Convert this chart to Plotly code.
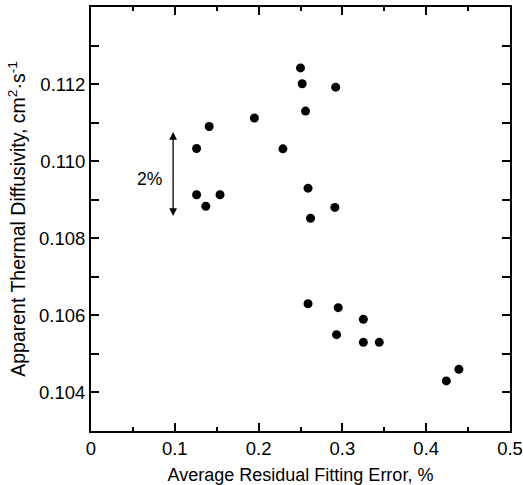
import plotly.graph_objects as go

# average residual fitting error (%) and apparent thermal diffusivity (cm2/s)
fit_error = [0.126, 0.141, 0.126, 0.137, 0.154, 0.195,
             0.250, 0.252, 0.292, 0.256, 0.229, 0.259, 0.291, 0.262,
             0.259, 0.295, 0.325, 0.293, 0.325, 0.344, 0.424, 0.439]
diffusivity = [0.11033, 0.1109, 0.10913, 0.10883, 0.10913, 0.11112,
               0.11242, 0.11201, 0.11192, 0.1113, 0.11032, 0.1093, 0.1088, 0.10852,
               0.1063, 0.1062, 0.1059, 0.1055, 0.1053, 0.1053, 0.1043, 0.1046]

# 2% scale arrow
arrow_x = 0.098
arrow_top = 0.11076
arrow_bottom = 0.10854
arrow_label = "2%"
label_x = 0.070
label_y = 0.10953

font = "Liberation Sans, Arial, sans-serif"

fig = go.Figure()

fig.add_trace(go.Scatter(
    x=fit_error,
    y=diffusivity,
    mode='markers',
    marker=dict(color='black', size=9),
    showlegend=False
))

fig.add_annotation(
    x=arrow_x, y=arrow_top, ax=arrow_x, ay=arrow_bottom,
    xref='x', yref='y', axref='x', ayref='y',
    text='', showarrow=True, arrowhead=2, arrowside='end+start',
    arrowsize=1.2, arrowwidth=1.3, arrowcolor='black'
)
fig.add_annotation(
    x=label_x, y=label_y, xref='x', yref='y',
    text=arrow_label, showarrow=False,
    font=dict(family=font, size=17.5, color='black')
)

axis_style = dict(
    showline=True, linecolor='black', linewidth=2, mirror='ticks',
    ticks='inside', ticklen=8, tickwidth=1.5, tickcolor='black',
    showgrid=False, zeroline=False, automargin=False,
    tickfont=dict(family=font, size=18.5, color='black'),
)

fig.update_xaxes(
    range=[0, 0.5], dtick=0.1, tickformat='.1~f',
    minor=dict(ticks='inside', ticklen=4, dtick=0.05, tickcolor='black', tickwidth=1.5),
    title=dict(text='Average Residual Fitting Error, %', font=dict(family=font, size=18, color='black'), standoff=10),
    **axis_style
)
fig.update_yaxes(
    range=[0.103, 0.114], dtick=0.002, tickformat='.3f',
    minor=dict(ticks='inside', ticklen=8, dtick=0.001, tickcolor='black', tickwidth=1.5),
    title=dict(text='Apparent Thermal Diffusivity, cm<sup>2</sup>·s<sup>-1</sup>',
               font=dict(family=font, size=19.5, color='black'), standoff=8),
    **axis_style
)

fig.update_layout(
    width=523, height=485,
    margin=dict(l=91, r=13, t=7, b=54),
    plot_bgcolor='white', paper_bgcolor='white',
)

# drop the browser's default page margin so the figure sits at the top-left corner
fig.write_html("out.html", config={'displayModeBar': False},
               post_script="document.body.style.margin='0';")
